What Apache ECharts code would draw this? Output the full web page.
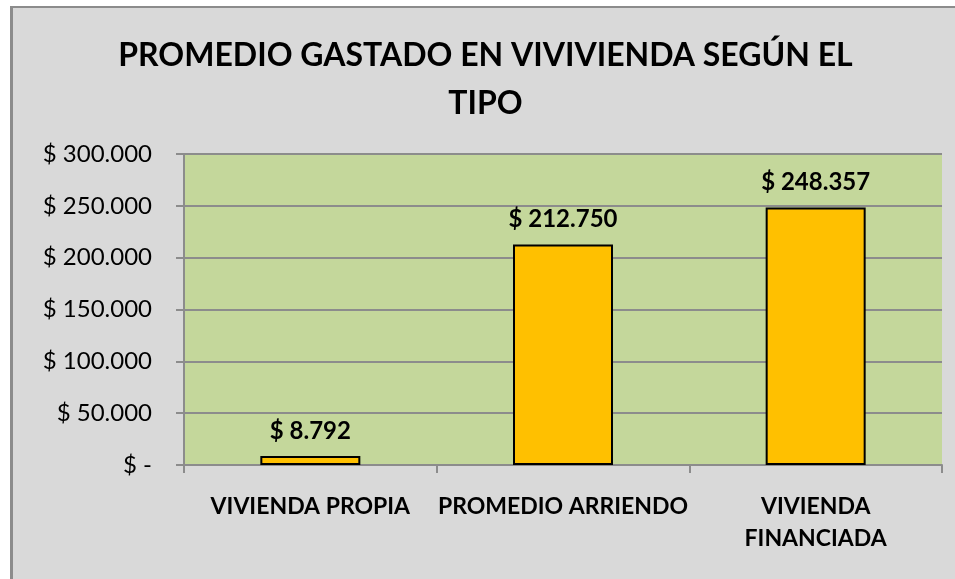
<!DOCTYPE html>
<html>
<head>
<meta charset="utf-8">
<script src="https://cdn.jsdelivr.net/npm/echarts@6/dist/echarts.min.js"></script>
<style>
  html, body { margin: 0; padding: 0; background: #fff; overflow: hidden; }
  .frame {
    position: absolute;
    left: 10px;
    top: 6px;
    width: 960px;
    height: 590px;
    background: #d9d9d9;
    border-left: 3px solid #8c8c8c;
    border-top: 2px solid #8c8c8c;
  }
  #chart { width: 945px; height: 571px; }
</style>
</head>
<body>
<div class="frame"><div id="chart"></div></div>
<script>
// datos del grafico
const categories = ["VIVIENDA PROPIA", "PROMEDIO ARRIENDO", "VIVIENDA\nFINANCIADA"];
const valores = [8792, 212750, 248357];
const yTicks = [0, 50000, 100000, 150000, 200000, 250000, 300000];

// formato pesos: $ 212.750, cero como "$ -"
function pesos(v) {
  if (v === 0) return "$ -";
  return "$ " + String(Math.round(v)).replace(/\B(?=(\d{3})+(?!\d))/g, ".");
}

const chart = echarts.init(document.getElementById("chart"));
const font = "Lato, 'Open Sans', sans-serif";

const option = {
  animation: false,
  textStyle: { fontFamily: font },
  title: {
    text: "PROMEDIO GASTADO EN VIVIVIENDA SEGÚN EL\nTIPO",
    left: "center",
    top: 24,
    padding: [0, 0, 0, 28],
    textStyle: {
      fontFamily: font,
      fontSize: 32,
      fontWeight: "bold",
      color: "#000",
      lineHeight: 48,
    },
  },
  grid: {
    left: 171,
    right: 16,
    top: 146,
    bottom: 114,
    show: true,
    backgroundColor: "#c4d79b",
    borderWidth: 0,
  },
  xAxis: {
    type: "category",
    data: categories,
    axisLine: { lineStyle: { color: "#8c8c8c", width: 2 } },
    axisTick: { show: true, length: 8, lineStyle: { color: "#8c8c8c", width: 2 } },
    axisLabel: {
      interval: 0,
      margin: 26,
      fontFamily: font,
      fontSize: 23,
      fontWeight: "bold",
      color: "#000",
      lineHeight: 32,
    },
  },
  yAxis: {
    type: "value",
    min: yTicks[0],
    max: yTicks[yTicks.length - 1],
    interval: yTicks[1] - yTicks[0],
    axisLine: { show: true, lineStyle: { color: "#8c8c8c", width: 2 } },
    axisTick: { show: true, length: 8, lineStyle: { color: "#8c8c8c", width: 2 } },
    splitLine: { lineStyle: { color: "#8c8c8c", width: 2 } },
    axisLabel: {
      margin: 32,
      fontFamily: font,
      fontSize: 24,
      color: "#000",
      formatter: pesos,
    },
  },
  series: [
    {
      type: "bar",
      data: valores,
      barWidth: 100,
      itemStyle: { color: "#ffc000", borderColor: "#000", borderWidth: 2 },
      label: {
        show: true,
        position: "top",
        distance: 13,
        fontFamily: font,
        fontSize: 24,
        fontWeight: "bold",
        color: "#000",
        formatter: (p) => pesos(p.value),
      },
    },
  ],
};

chart.setOption(option);
</script>
</body>
</html>
